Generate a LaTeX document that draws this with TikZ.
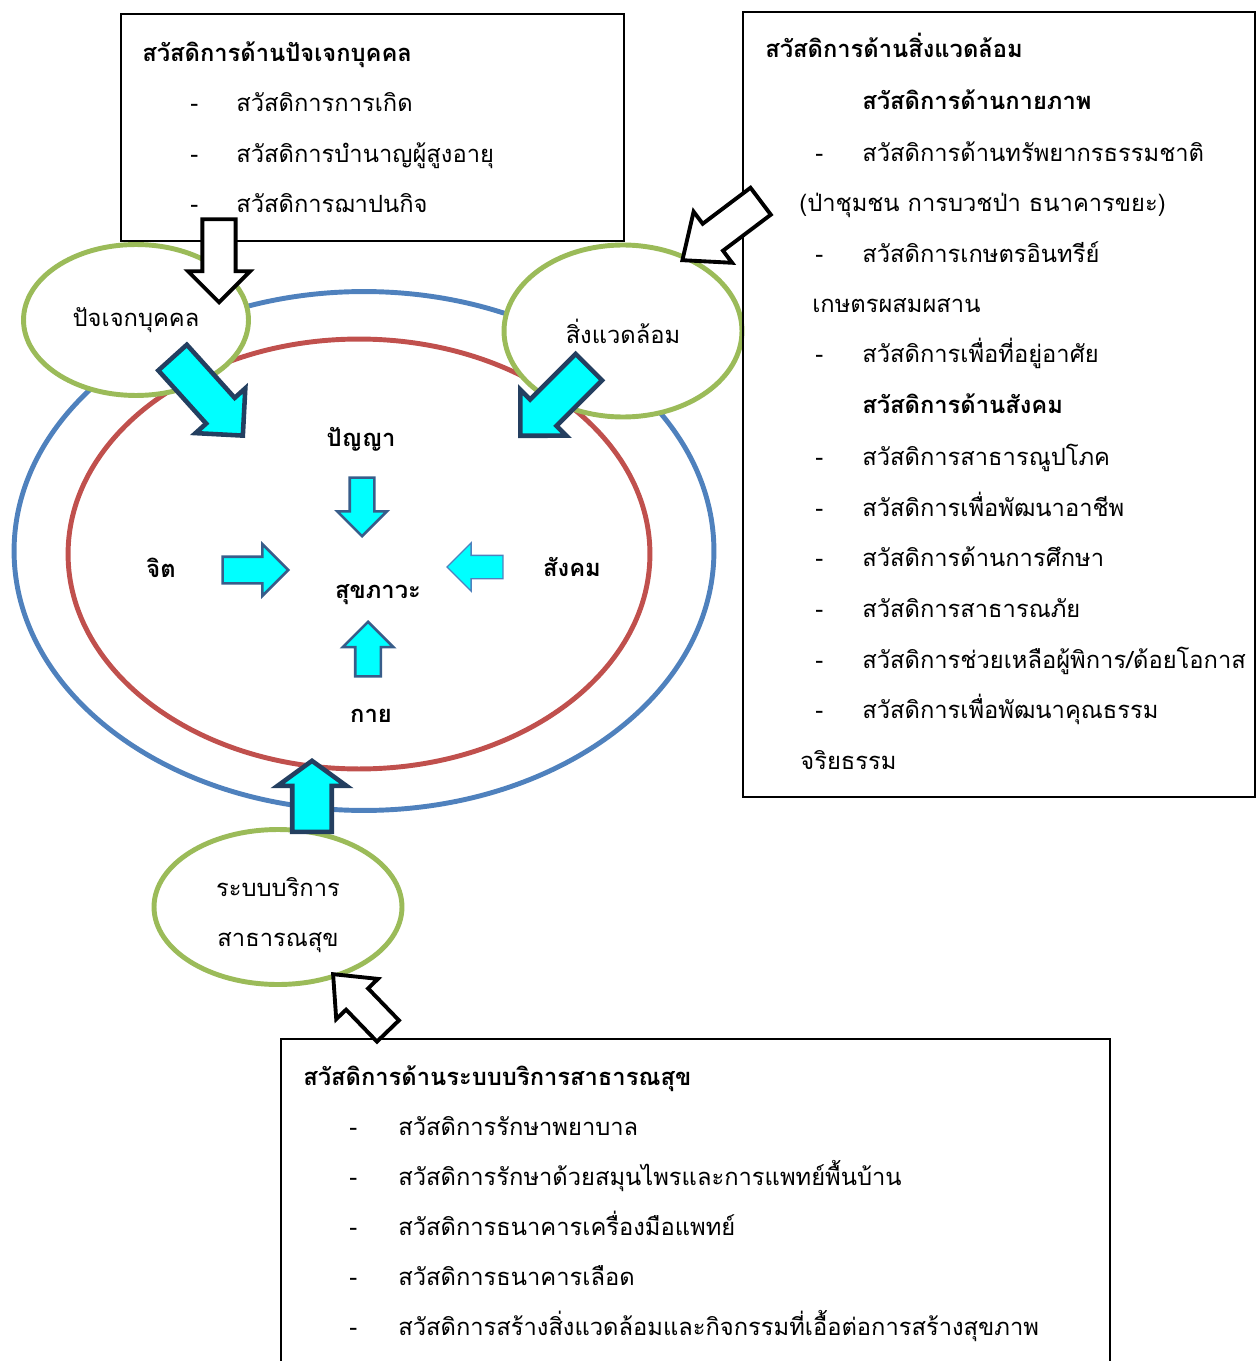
\documentclass[tikz,border=0pt]{standalone}
\usepackage{fontspec}
\setmainfont[Script=Thai]{Loma}
\usetikzlibrary{shapes.geometric,shapes.arrows}
\definecolor{ringblue}{HTML}{4F81BD}
\definecolor{ringred}{HTML}{C0504D}
\definecolor{partgreen}{HTML}{9BBB59}
\definecolor{arrcyan}{HTML}{00FFFF}
\definecolor{arrnavy}{HTML}{243F60}
\definecolor{arrblue}{HTML}{385D8A}
\newcommand{\diagfont}{\fontsize{13.5}{16}\selectfont}
\begin{document}
\begin{tikzpicture}[x=0.02cm,y=-0.02cm,
    ring/.style={ellipse,draw,line width=2.8pt,inner sep=0pt},
    part/.style={ellipse,draw=partgreen,line width=2.8pt,fill=white,inner sep=0pt,font=\diagfont},
    listbox/.style={rectangle,draw,line width=0.85pt,inner sep=0pt},
    txt/.style={anchor=base west,inner sep=0pt,font=\diagfont},
    headtxt/.style={anchor=base west,inner sep=0pt,font=\diagfont\bfseries},
    dimtxt/.style={anchor=base,inner sep=0pt,font=\diagfont\bfseries},
    bigarr/.style={single arrow,draw=arrnavy,fill=arrcyan,line width=2.6pt,inner xsep=0pt,anchor=tip,single arrow tip angle=90},
    smallarr/.style={single arrow,draw=arrblue,fill=arrcyan,line width=1.5pt,inner xsep=0pt,anchor=tip,single arrow tip angle=90},
    hollowarr/.style={single arrow,draw=black,fill=white,line width=2.2pt,inner xsep=0pt,anchor=tip,single arrow tip angle=90}]
    \useasboundingbox (0,0) rectangle (1257,1361);
    \clip (0,0) rectangle (1257,1361);
    % Rings
    \node[ring,draw=ringblue,minimum width=14.0cm,minimum height=10.38cm] (outer) at (364,551) {};
    \node[ring,draw=ringred,minimum width=11.64cm,minimum height=8.6cm] (inner) at (359,554) {};
    % Parts
    \node[part,minimum width=4.5cm,minimum height=3.02cm] (ind) at (136,320) {ปัจเจกบุคคล};
    \node[part,minimum width=4.76cm,minimum height=3.44cm] (env) at (623,331) {สิ่งแวดล้อม};
    \node[part,minimum width=4.96cm,minimum height=3.1cm,align=center] (hss) at (278,907) {\rule{0pt}{20pt}ระบบบริการ\\[12pt]สาธารณสุข};
    % Dimensions
    \node[dimtxt] (panya) at (361,446) {ปัญญา};
    \node[dimtxt] (jit) at (161,577) {จิต};
    \node[dimtxt] (sangkhom) at (572,576) {สังคม};
    \node[dimtxt] (sukhaphawa) at (378,598) {สุขภาวะ};
    \node[dimtxt] (kai) at (371,722) {กาย};
    % Boxes
    \node[listbox,minimum width=10.06cm,minimum height=4.54cm] (boxInd) at (372.5,127.5) {};
    \node[listbox,minimum width=10.24cm,minimum height=15.7cm] (boxEnv) at (999,404.5) {};
    \node[listbox,minimum width=16.58cm,minimum height=7.22cm] (boxHealth) at (695.5,1219.5) {};
    % Individual list
    \node[headtxt] (indHead) at (142,62) {สวัสดิการด้านปัจเจกบุคคล};
    \node[txt] (indD1) at (190,112) {-};
    \node[txt] (indI1) at (236,112) {สวัสดิการการเกิด};
    \node[txt] (indD2) at (190,163) {-};
    \node[txt] (indI2) at (236,163) {สวัสดิการบำนาญผู้สูงอายุ};
    \node[txt] (indD3) at (190,213) {-};
    \node[txt] (indI3) at (236,213) {สวัสดิการฌาปนกิจ};
    % Environment list
    \node[headtxt] (envHead) at (765,58) {สวัสดิการด้านสิ่งแวดล้อม};
    \node[headtxt] (envSub1) at (862,110) {สวัสดิการด้านกายภาพ};
    \node[txt] (envD1) at (815,162) {-};
    \node[txt] (envI1) at (862,162) {สวัสดิการด้านทรัพยากรธรรมชาติ};
    \node[txt] (envI1b) at (799,212) {(ป่าชุมชน การบวชป่า ธนาคารขยะ)};
    \node[txt] (envD2) at (815,263) {-};
    \node[txt] (envI2) at (862,263) {สวัสดิการเกษตรอินทรีย์};
    \node[txt] (envI2b) at (812,313) {เกษตรผสมผสาน};
    \node[txt] (envD3) at (815,363) {-};
    \node[txt] (envI3) at (862,363) {สวัสดิการเพื่อที่อยู่อาศัย};
    \node[headtxt] (envSub2) at (862,414) {สวัสดิการด้านสังคม};
    \node[txt] (envD4) at (815,465) {-};
    \node[txt] (envI4) at (862,465) {สวัสดิการสาธารณูปโภค};
    \node[txt] (envD5) at (815,516) {-};
    \node[txt] (envI5) at (862,516) {สวัสดิการเพื่อพัฒนาอาชีพ};
    \node[txt] (envD6) at (815,566) {-};
    \node[txt] (envI6) at (862,566) {สวัสดิการด้านการศึกษา};
    \node[txt] (envD7) at (815,617) {-};
    \node[txt] (envI7) at (862,617) {สวัสดิการสาธารณภัย};
    \node[txt] (envD8) at (815,668) {-};
    \node[txt] (envI8) at (862,668) {สวัสดิการช่วยเหลือผู้พิการ/ด้อยโอกาส};
    \node[txt] (envD9) at (815,718) {-};
    \node[txt] (envI9) at (862,718) {สวัสดิการเพื่อพัฒนาคุณธรรม};
    \node[txt] (envI9b) at (800,769) {จริยธรรม};
    % Health list
    \node[headtxt] (hssHead) at (303,1085) {สวัสดิการด้านระบบบริการสาธารณสุข};
    \node[txt] (hssD1) at (349,1135) {-};
    \node[txt] (hssI1) at (398,1135) {สวัสดิการรักษาพยาบาล};
    \node[txt] (hssD2) at (349,1185) {-};
    \node[txt] (hssI2) at (398,1185) {สวัสดิการรักษาด้วยสมุนไพรและการแพทย์พื้นบ้าน};
    \node[txt] (hssD3) at (349,1235) {-};
    \node[txt] (hssI3) at (398,1235) {สวัสดิการธนาคารเครื่องมือแพทย์};
    \node[txt] (hssD4) at (349,1285) {-};
    \node[txt] (hssI4) at (398,1285) {สวัสดิการธนาคารเลือด};
    \node[txt] (hssD5) at (349,1335) {-};
    \node[txt] (hssI5) at (398,1335) {สวัสดิการสร้างสิ่งแวดล้อมและกิจกรรมที่เอื้อต่อการสร้างสุขภาพ};
    % Hollow arrows
    \node[hollowarr,rotate=-90,minimum height=1.66cm,minimum width=1.24cm,inner ysep=0.25cm] (fromInd) at (219,305) {};
    \node[hollowarr,rotate=-143,minimum height=1.96cm,minimum width=1.28cm,inner ysep=0.24cm,single arrow tip angle=80] (fromEnv) at (680,262) {};
    \node[hollowarr,rotate=134,minimum height=1.58cm,minimum width=1.16cm,inner ysep=0.24cm,single arrow tip angle=80] (fromHealth) at (331,972) {};
    % Big arrows
    \node[bigarr,rotate=-48,minimum height=2.1cm,minimum width=1.34cm,inner ysep=0.29cm] (indIn) at (245,438) {};
    \node[bigarr,rotate=-135,minimum height=1.94cm,minimum width=1.3cm,inner ysep=0.29cm] (envIn) at (518,438) {};
    \node[bigarr,rotate=90,minimum height=1.42cm,minimum width=1.38cm,inner ysep=0.29cm,single arrow tip angle=108] (hssIn) at (312,758) {};
    % Small arrows
    \node[smallarr,rotate=-90,minimum height=1.17cm,minimum width=0.92cm,inner ysep=0.22cm] (panyaIn) at (362,538) {};
    \node[smallarr,rotate=0,minimum height=1.31cm,minimum width=0.99cm,inner ysep=0.24cm] (jitIn) at (290,570) {};
    \node[smallarr,draw=ringblue,line width=0.8pt,rotate=180,minimum height=1.12cm,minimum width=0.91cm,inner ysep=0.22cm] (sangkhomIn) at (446,567) {};
    \node[smallarr,rotate=90,minimum height=1.09cm,minimum width=0.93cm,inner ysep=0.23cm] (kaiIn) at (368,620) {};
\end{tikzpicture}
\end{document}
